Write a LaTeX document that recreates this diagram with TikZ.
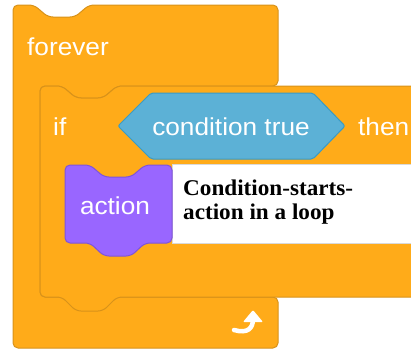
\documentclass[tikz,border=0pt]{standalone}
\usepackage{fontspec}
\newfontfamily\blkfont[FakeStretch=1.07]{Liberation Sans}
\newfontfamily\capfont[FakeStretch=1.03]{Liberation Serif}
\definecolor{ctlfill}{HTML}{FFAB19}
\definecolor{ctlline}{HTML}{D8921A}
\definecolor{opfill}{HTML}{5CB1D6}
\definecolor{opline}{HTML}{3A9BC4}
\definecolor{actfill}{HTML}{9966FF}
\definecolor{actline}{HTML}{7F55D9}
\tikzset{
  ctl/.style={fill=ctlfill, draw=ctlline, line width=1pt, rounded corners=5pt, line join=round},
  cond/.style={fill=opfill, draw=opline, line width=1pt, rounded corners=2pt, line join=round},
  act/.style={fill=actfill, draw=actline, line width=1pt, rounded corners=5pt, line join=round},
  lbl/.style={text=white, inner sep=0pt, font=\blkfont\fontsize{24.5}{28}\selectfont},
  caption/.style={text=black, inner sep=0pt, font=\capfont\bfseries\fontsize{22.5}{24}\selectfont},
}
\begin{document}
\begin{tikzpicture}[x=1pt,y=-1pt]
\useasboundingbox (0,0) rectangle (411,351);
% forever block
\draw[ctl] (13,50) -- (13,5) -- (34,5) -- (48,17) -- (75,17) -- (89,5) -- (278,5)
  -- (278,86) -- (117,86) -- (103,98) -- (76,98) -- (62,86) -- (40,86)
  -- (40,297) -- (278,297) -- (278,348) -- (13,348) -- cycle;
% if block
\draw[ctl] (40,200) -- (40,86) -- (62,86) -- (76,98) -- (103,98) -- (117,86) -- (430,86)
  -- (430,297) -- (117,297) -- (103,311) -- (76,311) -- (62,297) -- (40,297) -- cycle;
% condition hexagon
\draw[cond] (118,126) -- (151,93) -- (313,93) -- (345,126) -- (313,159) -- (151,159) -- cycle;
% white caption box
\draw[fill=white, draw=black!15, line width=0.8pt] (172,164) rectangle (430,243);
% action block
\draw[act] (65,200) -- (65,165) -- (90,165) -- (104,177) -- (131,177) -- (145,165) -- (172,165)
  -- (172,243) -- (145,243) -- (131,256) -- (104,256) -- (90,243) -- (65,243) -- cycle;
% texts
\node[lbl, anchor=base west] (fv) at (27,55) {forever};
\node[lbl, anchor=base west] (iff) at (53,135) {if};
\node[lbl, anchor=base] (ct) at (231,135) {condition true};
\node[lbl, anchor=base west] (th) at (358,135) {then};
\node[lbl, anchor=base] (ac) at (115,214) {action};
\node[caption, anchor=base west] (c1) at (183,195) {Condition-starts-};
\node[caption, anchor=base west] (c2) at (183,219) {action in a loop};
% loop arrow icon
\draw[white, line width=4.5pt, line cap=round] (234,330) .. controls (248,334) and (253,328) .. (253,319);
\fill[white, rounded corners=1pt] (243,322) -- (253,310) -- (263,322) -- cycle;
\end{tikzpicture}
\end{document}
